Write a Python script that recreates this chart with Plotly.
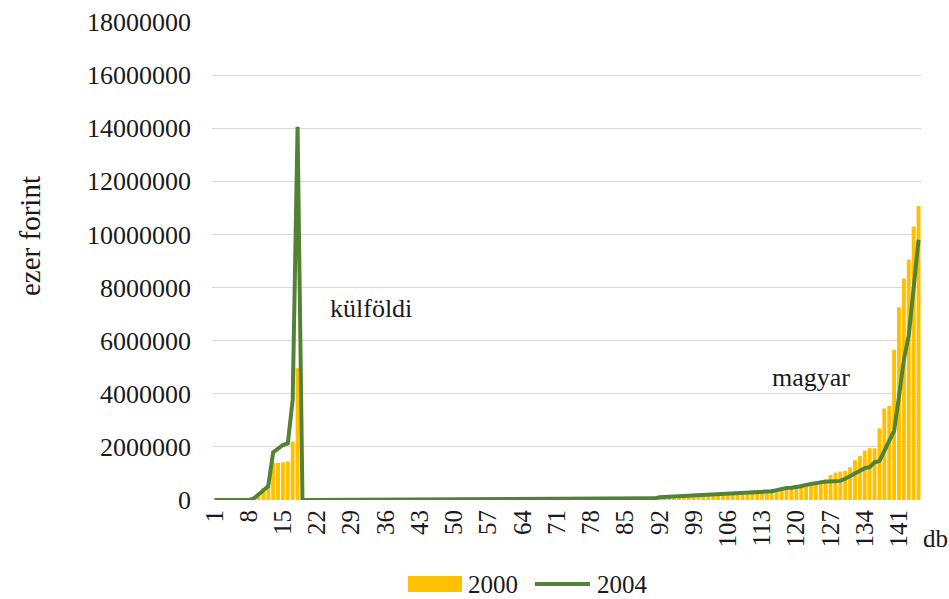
import plotly.graph_objects as go

categories = list(range(1, 146))

# 2000 (bars)
v2000 = (
    [0, 0, 0, 0, 0, 5000, 10000, 40000]
    + [120000, 280000, 450000, 600000, 1400000, 1400000, 1420000, 1450000, 2200000, 4960000]
    + [1000, 1200, 1500, 1800, 2000, 2300, 2600, 3000, 3300, 3600,
       4000, 4400, 4800, 5200, 5600, 6000, 6500, 7000, 7500, 8000,
       8500, 9000, 9600, 10200, 10800, 11500, 12200, 13000, 13800, 14600,
       15400, 16200, 17000, 18000, 19000, 20000, 21000, 22000, 23000, 24000,
       25000, 26000, 27000, 28000, 29000, 30000, 31000, 32000, 33000, 34000,
       35000, 36000, 37000, 38000, 39000, 40000]
    + [45000, 48000, 50000, 52000, 55000, 57000, 60000, 62000, 65000, 68000,
       70000, 72000, 75000, 78000, 80000, 85000, 90000, 95000]
    + [100000, 110000, 120000, 130000, 140000, 150000]
    + [180000, 190000, 200000, 200000, 210000, 220000, 230000, 250000, 270000, 280000,
       300000, 330000, 360000, 370000, 380000, 390000, 400000, 420000, 460000, 500000]
    + [530000, 570000, 600000, 630000, 690000, 690000, 720000, 750000, 940000, 1030000,
       1070000, 1100000, 1230000, 1500000, 1660000, 1860000, 1950000, 1950000, 2700000, 3450000,
       3550000, 5660000, 7260000, 8340000, 9060000, 10300000, 11070000]
)

# 2004 (line)
v2004 = (
    [0, 0, 0, 0, 0, 0, 0, 0]
    + [50000, 200000, 350000, 520000, 1790000, 1950000, 2070000, 2130000, 3770000, 14050000]
    + [500, 800, 1000, 1200, 1500, 1800, 2000, 2200, 2500, 2800,
       3000, 3300, 3600, 4000, 4300, 4600, 5000, 5300, 5600, 6000,
       6400, 6800, 7200, 7600, 8000, 8500, 9000, 9500, 10000, 10500,
       11000, 11500, 12000, 12500, 13000, 13500, 14000, 14500, 15000, 15500,
       16000, 16500, 17000, 17500, 18000, 18500, 19000, 19500, 20000, 20500,
       21000, 21500, 22000, 22500, 23000, 24000]
    + [45000, 46000, 47000, 48000, 49000, 50000, 51000, 52000, 53000, 54000,
       55000, 56000, 57000, 58000, 59000, 60000, 62000]
    + [100000, 110000, 120000, 120000, 130000, 130000, 140000, 140000, 150000, 160000,
       170000, 180000, 200000, 210000, 220000, 230000, 240000, 250000, 250000, 260000,
       270000, 280000, 300000, 330000, 370000, 420000, 450000]
    + [460000, 480000, 520000, 570000, 600000, 640000, 690000, 700000, 700000, 700000,
       720000, 800000, 900000, 1000000, 1120000, 1200000, 1240000, 1420000, 1470000, 1850000,
       2250000, 2600000, 3900000, 5300000, 6200000, 7900000, 9800000]
)

tick_vals = categories[::7]
tick_text = [str(c) for c in tick_vals]
y_ticks = [0, 2000000, 4000000, 6000000, 8000000, 10000000, 12000000, 14000000, 16000000, 18000000]

FONT = "Liberation Serif"
TXT = "#1a1a1a"
YELLOW = "#FFC000"
GREEN = "#548235"

fig = go.Figure()
fig.add_trace(go.Bar(x=categories, y=v2000, name="2000", showlegend=False,
                     marker=dict(color=YELLOW, line=dict(width=0))))
fig.add_trace(go.Scatter(x=categories, y=v2004, name="2004", mode="lines", showlegend=False,
                         line=dict(color=GREEN, width=4)))

# plot area in pixels: x 212..921, y 22..500
PL, PR, PT, PB = 212, 921, 22, 500
def px(xp):
    return (xp - PL) / (PR - PL)
def py(yp):
    return (PB - yp) / (PB - PT)

def note(x, y, text, size=25, xanchor="center", angle=0):
    return dict(x=px(x), y=py(y), xref="paper", yref="paper", text=text, showarrow=False,
                xanchor=xanchor, yanchor="middle", textangle=angle,
                font=dict(family=FONT, size=size, color=TXT))

fig.update_layout(
    width=949, height=599,
    margin=dict(l=PL, r=949 - PR, t=PT, b=599 - PB, autoexpand=False),
    paper_bgcolor="white", plot_bgcolor="white",
    font=dict(family=FONT, size=25, color=TXT),
    bargap=0.2,
    showlegend=False,
    xaxis=dict(range=[0.5, 145.5], tickmode="array", tickvals=tick_vals, ticktext=tick_text,
               tickangle=-90, showgrid=False, zeroline=False, showline=False, automargin=False,
               ticks="", ticklabelstandoff=4, tickfont=dict(family=FONT, size=25, color=TXT)),
    yaxis=dict(range=[0, 18000000], tickmode="array", tickvals=y_ticks,
               ticktext=[str(v) for v in y_ticks], automargin=False,
               showgrid=True, gridcolor="#d9d9d9", gridwidth=1, zeroline=False,
               showline=False, ticks="", ticklabelstandoff=20,
               tickfont=dict(family=FONT, size=26, color=TXT)),
    shapes=[
        dict(type="rect", xref="paper", yref="paper", x0=px(408), x1=px(462), y0=py(592), y1=py(576),
             fillcolor=YELLOW, line=dict(width=0)),
        dict(type="line", xref="paper", yref="paper", x0=px(535), x1=px(590), y0=py(584), y1=py(584),
             line=dict(color=GREEN, width=4)),
    ],
    annotations=[
        note(30, 236, "ezer forint", size=29, angle=-90),
        dict(x=33, y=7200000, xref="x", yref="y", text="külföldi", showarrow=False,
             font=dict(family=FONT, size=26, color=TXT)),
        dict(x=123, y=4600000, xref="x", yref="y", text="magyar", showarrow=False,
             font=dict(family=FONT, size=26, color=TXT)),
        note(935, 538, "db", size=25),
        note(466, 584, "2000", size=25, xanchor="left"),
        note(595, 584, "2004", size=25, xanchor="left"),
    ],
)

fig.write_html("out.html", config={"displayModeBar": False},
               post_script="document.body.style.margin='0';")
